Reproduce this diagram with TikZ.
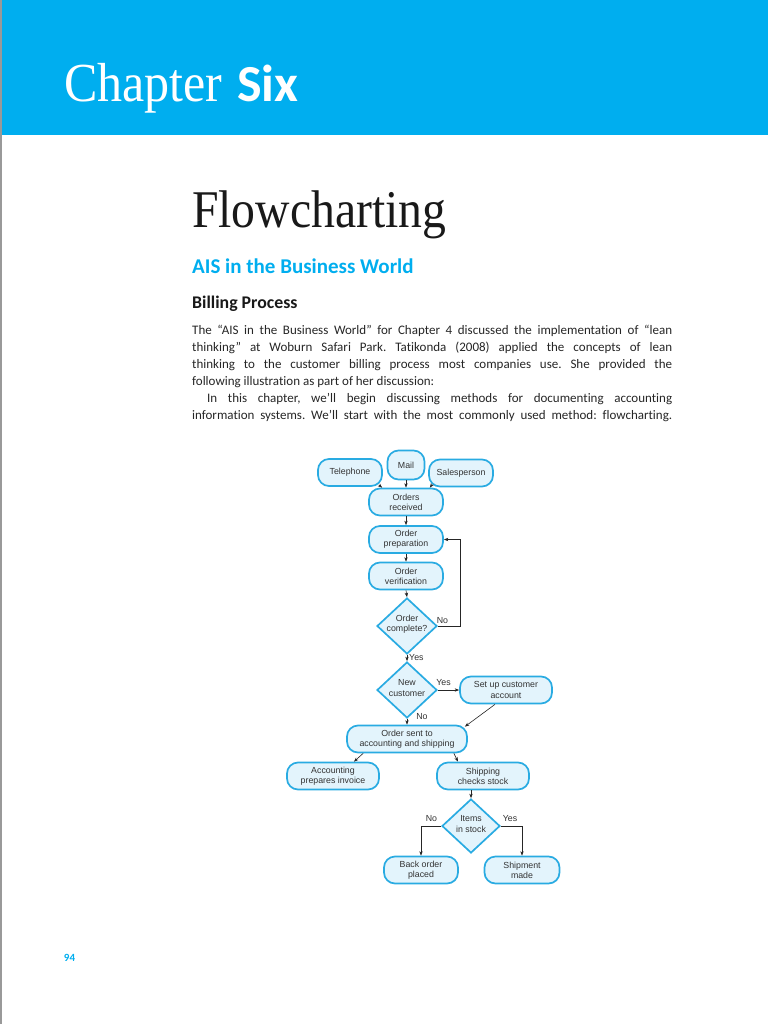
\documentclass[tikz,border=0pt]{standalone}
\usepackage{graphicx}
\usepackage{fontspec}
\setmainfont{Liberation Serif}
\newfontfamily\bodyfont[Ligatures=NoCommon]{Carlito}
\newfontfamily\chartfont{Liberation Sans}
\usetikzlibrary{shapes.geometric,arrows.meta,calc}
\definecolor{band}{HTML}{00AEEF}
\definecolor{boxline}{HTML}{29ABE2}
\definecolor{boxfill}{HTML}{E3F4FC}
\definecolor{chartink}{HTML}{333333}
\frenchspacing
\begin{document}
\begin{tikzpicture}[x=1pt,y=-1pt,
  chartfontstyle/.style={font=\chartfont\fontsize{8.8}{10.2}\selectfont, text=chartink},
  proc/.style={chartfontstyle, draw=boxline, fill=boxfill, line width=1.7pt, rounded corners=11pt, minimum height=27pt, inner sep=1pt, align=center},
  dec/.style={diamond, draw=boxline, fill=boxfill, line width=1.7pt, minimum width=60pt, minimum height=56pt, inner sep=0pt},
  ctext/.style={chartfontstyle, align=center, inner sep=0pt},
  lab/.style={chartfontstyle, inner sep=0pt},
  arr/.style={-{Stealth[length=4.5pt,width=3.4pt]}, line width=0.6pt, draw=black!85},
  bodyline/.style={anchor=base west, inner sep=0pt, font=\bodyfont\frenchspacing\fontsize{13}{17}\selectfont, text=black!85},
]
\useasboundingbox (0,0) rectangle (768,1024);
\fill[white] (0,0) rectangle (768,1024);
% header band
\fill[band] (0,0) rectangle (768,135);
\fill[black!40] (0,0) rectangle (1.5,1024);
\node[anchor=base west, inner sep=0pt, text=white, font=\fontsize{55}{60}\selectfont] (chap) at (64,102) {\scalebox{0.91}[1]{Chapter}};
\node[anchor=base west, inner sep=0pt, text=white, font=\bodyfont\bfseries\fontsize{52}{60}\selectfont] (six) at (237,102) {Six};
% titles
\node[anchor=base west, inner sep=0pt, text=black!90, font=\fontsize{53}{60}\selectfont] (title) at (192,227) {\scalebox{0.9}[1]{Flowcharting}};
\node[anchor=base west, inner sep=0pt, text=band, font=\bodyfont\bfseries\fontsize{21}{24}\selectfont] (ais) at (192,273) {AIS in the Business World};
\node[anchor=base west, inner sep=0pt, text=black!90, font=\bodyfont\bfseries\fontsize{17.8}{20}\selectfont] (billing) at (192,308) {Billing Process};
% body text
\node[bodyline] (l1) at (192,334) {\hbox to 480pt{The “AIS in the Business World” for Chapter 4 discussed the implementation of “lean}};
\node[bodyline] (l2) at (192,351) {\hbox to 480pt{thinking” at Woburn Safari Park. Tatikonda (2008) applied the concepts of lean}};
\node[bodyline] (l3) at (192,368) {\hbox to 480pt{thinking to the customer billing process most companies use. She provided the}};
\node[bodyline] (l4) at (192,385) {following illustration as part of her discussion:};
\node[bodyline] (l5) at (207,402) {\hbox to 465pt{In this chapter, we’ll begin discussing methods for documenting accounting}};
\node[bodyline] (l6) at (192,419) {\hbox to 480pt{information systems. We’ll start with the most commonly used method: flowcharting.}};
% flowchart nodes
\node[proc, minimum width=64pt] (tel) at (350,472.5) {Telephone};
\node[proc, minimum width=37pt, minimum height=29pt] (mail) at (406,465) {Mail};
\node[proc, minimum width=64pt] (sales) at (461,473) {Salesperson};
\node[proc, minimum width=74pt] (orec) at (406,502) {Orders\\received};
\node[proc, minimum width=74pt] (oprep) at (406,539.5) {Order\\preparation};
\node[proc, minimum width=74pt] (over) at (406,576) {Order\\verification};
\node[dec] (ocomp) at (407,626) {};
\node[ctext] (ocompt) at (407,624) {Order\\complete?};
\node[dec] (newc) at (407,690) {};
\node[ctext] (newct) at (407,688) {New\\customer};
\node[proc, minimum width=92pt] (setup) at (506,690) {Set up customer\\account};
\node[proc, minimum width=120pt] (sent) at (407,739) {Order sent to\\accounting and shipping};
\node[proc, minimum width=92pt] (acct) at (333,776) {Accounting\\prepares invoice};
\node[proc, minimum width=92pt] (ship) at (483,776) {Shipping\\checks stock};
\node[dec, minimum width=58pt, minimum height=54pt] (stock) at (471,826) {};
\node[ctext] (stockt) at (471,824) {Items\\in stock};
\node[proc, minimum width=74pt] (back) at (421,870) {Back order\\placed};
\node[proc, minimum width=75pt] (shipm) at (522,870) {Shipment\\made};
% connectors
\draw[arr] (mail.south) -- (orec.north);
\draw[arr] ([xshift=-4pt,yshift=2pt]tel.south east) -- ([xshift=14pt]orec.north west);
\draw[arr] ([xshift=4pt,yshift=3pt]sales.south west) -- ([xshift=-14pt]orec.north east);
\draw[arr] (orec.south) -- (oprep.north);
\draw[arr] (oprep.south) -- (over.north);
\draw[arr] (over.south) -- (ocomp.north);
\draw[arr] (ocomp.east) -- ++(22,0) coordinate (loopc) |- (oprep.east);
\node[lab] (no1) at (442.5,621) {No};
\draw[arr] (ocomp.south) -- (newc.north);
\node[lab, anchor=west] (yes1) at (409,658) {Yes};
\draw[arr] (newc.east) -- (setup.west);
\node[lab] (yes2) at (443.5,683) {Yes};
\draw[arr] (newc.south) -- (sent.north);
\node[lab] (no2) at (422,717) {No};
\draw[arr] ([xshift=-11pt]setup.south) -- ([xshift=-3pt,yshift=-2pt]sent.north east);
\draw[arr] ([xshift=17pt]sent.south west) -- ([xshift=21pt]acct.north);
\draw[arr] ([xshift=-14pt]sent.south east) -- ([xshift=-25pt]ship.north);
\draw[arr] (ship.south -| stock.north) -- (stock.north);
\draw[arr] (stock.west) -| (back.north);
\node[lab] (no3) at (431.5,819) {No};
\draw[arr] (stock.east) -| (shipm.north);
\node[lab] (yes3) at (510,819) {Yes};
% page number
\node[inner sep=0pt, text=band, font=\bodyfont\bfseries\fontsize{11}{12}\selectfont] (pg) at (69.5,958) {94};
\end{tikzpicture}
\end{document}
